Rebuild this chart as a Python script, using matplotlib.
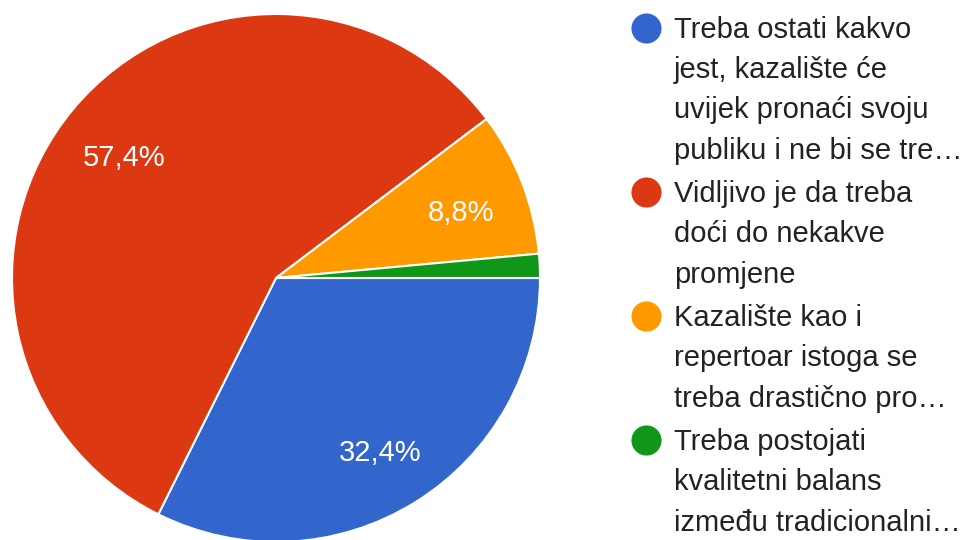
import matplotlib.pyplot as plt

# ----------------------
# DATA
# ----------------------
counts = [22, 39, 6, 1]
colors = ['#3366CC', '#DC3912', '#FF9900', '#109618']
legend_lines = [
    ["Treba ostati kakvo", "jest, kazalište će", "uvijek pronaći svoju", "publiku i ne bi se tre…"],
    ["Vidljivo je da treba", "doći do nekakve", "promjene"],
    ["Kazalište kao i", "repertoar istoga se", "treba drastično pro…"],
    ["Treba postojati", "kvalitetni balans", "između tradicionalni…"],
]

W, H = 965, 540
plt.rcParams['font.family'] = ['Liberation Sans', 'DejaVu Sans']

fig = plt.figure(figsize=(W / 100, H / 100), dpi=100)

# pie: center (276, 278) px, radius 264 px
cx, cy, r = 276, 278, 264
ax = fig.add_axes([(cx - r) / W, (H - cy - r) / H, 2 * r / W, 2 * r / H])


def fmt_pct(p):
    if p < 5:
        return ''
    return f"{p:.1f}%".replace('.', ',')


wedges, texts, autotexts = ax.pie(
    counts, colors=colors, startangle=0, counterclock=False,
    autopct=fmt_pct, pctdistance=0.75,
    wedgeprops=dict(edgecolor='white', linewidth=1.5),
    textprops=dict(color='white', fontsize=21))
# labels sit a few px lower in the original
for t in autotexts:
    x, y = t.get_position()
    t.set_position((x, y - 0.024))
ax.set_xlim(-1, 1)
ax.set_ylim(-1, 1)
ax.set_aspect('equal')
ax.axis('off')

# ----------------------
# LEGEND (manual, pixel coords)
# ----------------------
lax = fig.add_axes([0, 0, 1, 1])
lax.set_xlim(0, W)
lax.set_ylim(H, 0)
lax.axis('off')

step = 40.5
gap = 2.5
line_no = 0
for i, lines in enumerate(legend_lines):
    y0 = 27.5 + step * line_no + gap * i
    lax.scatter([645.5], [y0], s=29 ** 2 * 0.56, color=colors[i], linewidths=0)
    for j, txt in enumerate(lines):
        lax.text(674, y0 + step * j + 10, txt, fontsize=21, color='#222222',
                 va='baseline', ha='left')
    line_no += len(lines)

fig.savefig('out.png', dpi=100)
